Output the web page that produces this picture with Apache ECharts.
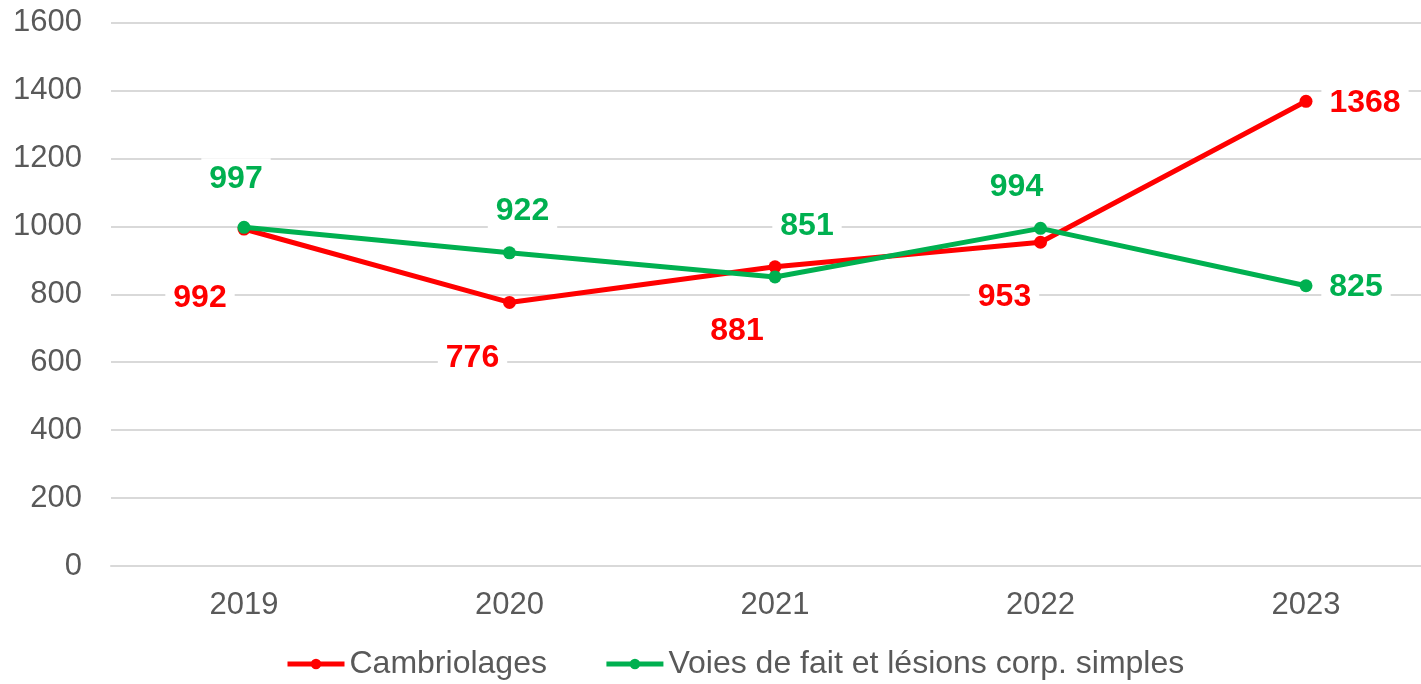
<!DOCTYPE html>
<html>
<head>
<meta charset="utf-8">
<script src="https://cdn.jsdelivr.net/npm/echarts@6/dist/echarts.min.js"></script>
<style>
  html, body { margin: 0; padding: 0; background: #ffffff; }
  #chart { width: 1421px; height: 684px; }
</style>
</head>
<body>
<div id="chart"></div>
<script>
// Years on the category axis
const years = ['2019', '2020', '2021', '2022', '2023'];
// Series values
const cambriolages = [992, 776, 881, 953, 1368];
const voiesDeFait = [997, 922, 851, 994, 825];
// Series names
const seriesNames = ['Cambriolages', 'Voies de fait et lésions corp. simples'];
// Value axis ticks
const yMin = 0;
const yMax = 1600;
const yStep = 200;

// Label placement (offset of each value label from its point, in px)
const redOffsets = [[-44, 69], [-37, 56], [-38, 64], [-36, 55], [59, 2]];
const greenOffsets = [[-8, -48], [13, -42], [32, -51], [-24, -41], [50, 1]];

const RED = '#ff0000';
const GREEN = '#00b050';
const TEXT = '#595959';
const GRID = '#d9d9d9';
const FONT = 'Liberation Sans, Arial, sans-serif';

function seriesData(values, offsets, color) {
  return values.map((v, i) => ({
    value: v,
    label: {
      show: true,
      position: 'inside',
      offset: offsets[i],
      align: 'center',
      verticalAlign: 'middle',
      color: color,
      fontSize: 32,
      fontWeight: 'bold',
      fontFamily: FONT,
      backgroundColor: '#ffffff',
      padding: [5, 8]
    }
  }));
}

const chart = echarts.init(document.getElementById('chart'), null, { renderer: 'canvas' });

chart.setOption({
  animation: false,
  backgroundColor: '#ffffff',
  textStyle: { fontFamily: FONT },
  grid: [
    // full-width frame: gridlines, value labels and baseline
    { left: 111, top: 22.5, right: 0, bottom: 118, containLabel: false },
    // plotting area: year positions run from the first to the last point
    { left: 244, top: 22.5, right: 115, bottom: 118, containLabel: false }
  ],
  legend: {
    left: 285,
    top: 648,
    padding: 0,
    itemWidth: 57,
    itemHeight: 13,
    itemGap: 57,
    lineStyle: { width: 5 },
    textStyle: { color: TEXT, fontSize: 32, fontFamily: FONT },
    data: seriesNames
  },
  xAxis: [
    {
      gridIndex: 0,
      type: 'value',
      min: 0,
      max: 1,
      axisLine: { show: true, lineStyle: { color: GRID, width: 2 } },
      axisTick: { show: false },
      axisLabel: { show: false },
      splitLine: { show: false }
    },
    {
      gridIndex: 1,
      type: 'category',
      data: years,
      boundaryGap: false,
      axisLine: { show: false },
      axisTick: { show: false },
      axisLabel: { color: TEXT, fontSize: 31, fontFamily: FONT, margin: 24 },
      splitLine: { show: false }
    }
  ],
  yAxis: [
    {
      gridIndex: 0,
      type: 'value',
      min: yMin,
      max: yMax,
      interval: yStep,
      axisLine: { show: false },
      axisTick: { show: false },
      axisLabel: {
        color: TEXT,
        fontSize: 31,
        fontFamily: FONT,
        margin: 29,
        formatter: (v) => String(v)
      },
      splitLine: { show: true, lineStyle: { color: GRID, width: 2 } }
    },
    {
      gridIndex: 1,
      type: 'value',
      min: yMin,
      max: yMax,
      interval: yStep,
      show: false,
      splitLine: { show: false }
    }
  ],
  series: [
    {
      name: seriesNames[0],
      type: 'line',
      xAxisIndex: 1,
      yAxisIndex: 1,
      data: seriesData(cambriolages, redOffsets, RED),
      symbol: 'circle',
      symbolSize: 13,
      lineStyle: { color: RED, width: 5 },
      itemStyle: { color: RED },
      z: 2
    },
    {
      name: seriesNames[1],
      type: 'line',
      xAxisIndex: 1,
      yAxisIndex: 1,
      data: seriesData(voiesDeFait, greenOffsets, GREEN),
      symbol: 'circle',
      symbolSize: 13,
      lineStyle: { color: GREEN, width: 5 },
      itemStyle: { color: GREEN },
      z: 3
    }
  ]
});
</script>
</body>
</html>
